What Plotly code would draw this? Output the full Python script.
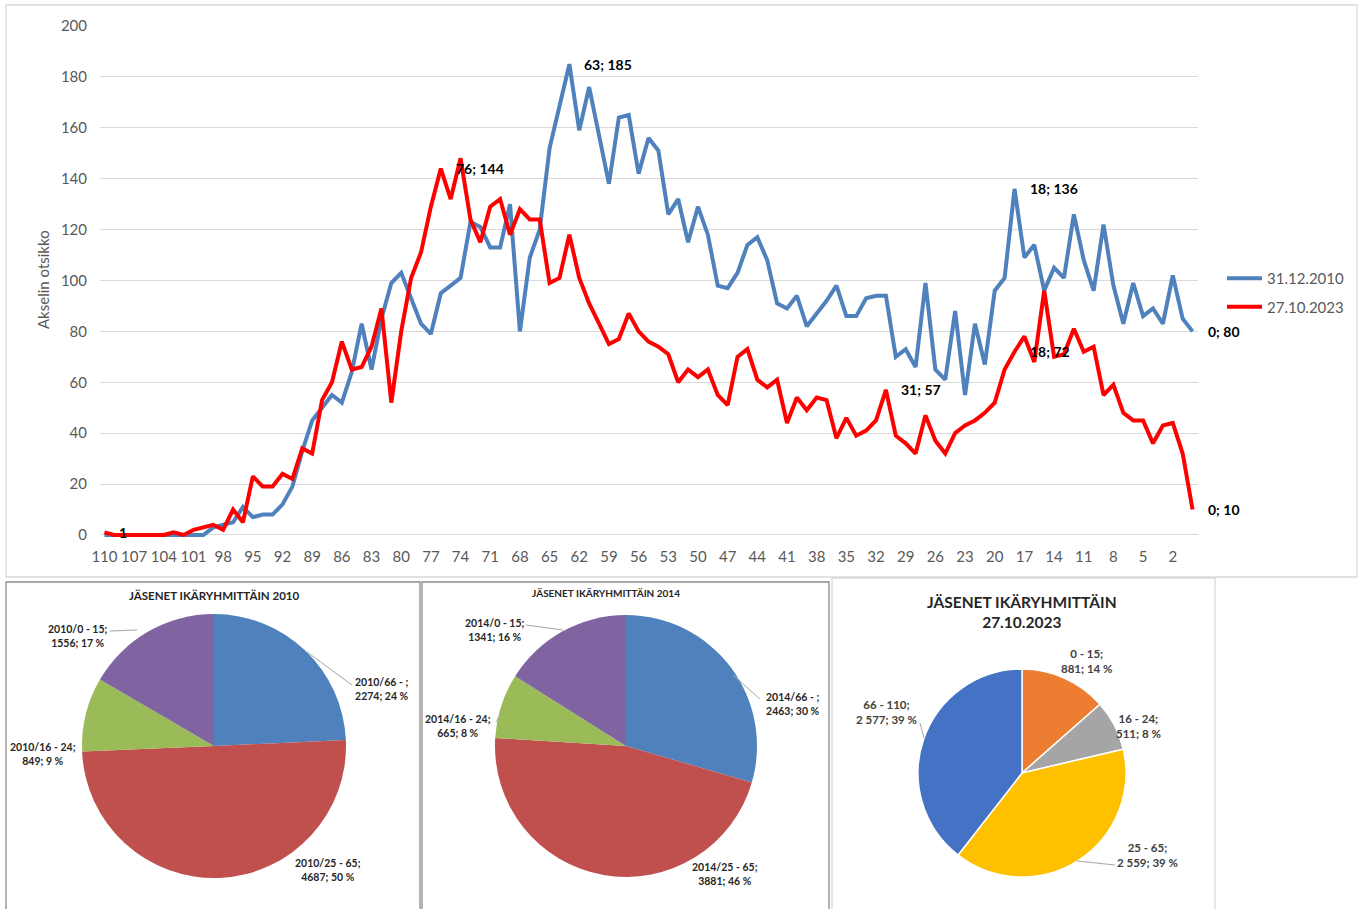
import plotly.graph_objects as go

W, H = 1358, 909

# ---------------- data ----------------
ages = list(range(110, -1, -1))
members_2010 = [0, 0, 0, 0, 0, 0, 0, 0, 0, 0, 0,
                3, 4, 5, 11, 7, 8, 8, 12, 19, 33,
                45, 50, 55, 52, 64, 83, 65, 85, 99, 103,
                93, 83, 79, 95, 98, 101, 123, 121, 113, 113,
                130, 80, 109, 120, 152, 168, 185, 159, 176, 157,
                138, 164, 165, 142, 156, 151, 126, 132, 115, 129,
                118, 98, 97, 103, 114, 117, 108, 91, 89, 94,
                82, 87, 92, 98, 86, 86, 93, 94, 94, 70,
                73, 66, 99, 65, 61, 88, 55, 83, 67, 96,
                101, 136, 109, 114, 96, 105, 101, 126, 108, 96,
                122, 98, 83, 99, 86, 89, 83, 102, 85, 80]
members_2023 = [1, 0, 0, 0, 0, 0, 0, 1, 0, 2, 3,
                4, 2, 10, 5, 23, 19, 19, 24, 22, 34,
                32, 53, 60, 76, 65, 66, 74, 89, 52, 80,
                101, 111, 129, 144, 132, 148, 124, 115, 129, 132,
                118, 128, 124, 124, 99, 101, 118, 101, 91, 83,
                75, 77, 87, 80, 76, 74, 71, 60, 65, 62,
                65, 55, 51, 70, 73, 61, 58, 61, 44, 54,
                49, 54, 53, 38, 46, 39, 41, 45, 57, 39,
                36, 32, 47, 37, 32, 40, 43, 45, 48, 52,
                65, 72, 78, 68, 96, 70, 71, 81, 72, 74,
                55, 59, 48, 45, 45, 36, 43, 44, 32, 10]
series_names = ["31.12.2010", "27.10.2023"]
x_tick_vals = [110, 107, 104, 101, 98, 95, 92, 89, 86, 83, 80, 77, 74, 71, 68, 65,
               62, 59, 56, 53, 50, 47, 44, 41, 38, 35, 32, 29, 26, 23, 20, 17, 14, 11, 8, 5, 2]
y_tick_vals = [0, 20, 40, 60, 80, 100, 120, 140, 160, 180, 200]
labeled_2010 = [63, 18, 0]
labeled_2023 = [76, 31, 18, 0]
value_only_2023 = [110]

pie_groups_2010 = ["2010/66 - ", "2010/25 - 65", "2010/16 - 24", "2010/0 - 15"]
pie_values_2010 = [2274, 4687, 849, 1556]
pie_pct_2010 = [24, 50, 9, 17]
pie_groups_2014 = ["2014/66 - ", "2014/25 - 65", "2014/16 - 24", "2014/0 - 15"]
pie_values_2014 = [2463, 3881, 665, 1341]
pie_pct_2014 = [30, 46, 8, 16]
pie_groups_2023 = ["0 - 15", "16 - 24", "25 - 65", "66 - 110"]
pie_values_2023 = [881, 511, 2559, 2577]
pie_pct_2023 = [14, 8, 39, 39]

# ---------------- helpers ----------------
def px(x):
    return x / W


def py(y):
    return 1 - y / H


FONT = "Lato, Open Sans, sans-serif"
GRAY_TXT = "#595959"

fig = go.Figure()

# ---------------- line chart ----------------
fig.add_trace(go.Scatter(x=ages, y=members_2010, mode="lines", name=series_names[0],
                         line=dict(color="#4F81BD", width=4), legendgroup="a"))
fig.add_trace(go.Scatter(x=ages, y=members_2023, mode="lines", name=series_names[1],
                         line=dict(color="#FF0000", width=4), legendgroup="b"))

annotations = []
lab_font = dict(family=FONT, size=14, color="#000000", weight="bold")
for a in labeled_2010:
    v = members_2010[ages.index(a)]
    annotations.append(dict(x=a, y=v, xref="x", yref="y", text=f"{a}; {v}", showarrow=False,
                            xanchor="left", yanchor="middle", xshift=13, font=lab_font))
for a in labeled_2023:
    v = members_2023[ages.index(a)]
    annotations.append(dict(x=a, y=v, xref="x", yref="y", text=f"{a}; {v}", showarrow=False,
                            xanchor="left", yanchor="middle", xshift=13, font=lab_font))
for a in value_only_2023:
    v = members_2023[ages.index(a)]
    annotations.append(dict(x=a, y=v, xref="x", yref="y", text=f"{v}", showarrow=False,
                            xanchor="left", yanchor="middle", xshift=13, font=lab_font))


def paper_text(x, y, text, font, angle=0):
    annotations.append(dict(x=px(x), y=py(y), xref="paper", yref="paper", text=text, showarrow=False,
                            xanchor="center", yanchor="middle", textangle=angle, font=font))


# y axis title
paper_text(43, 280, "Akselin otsikko", dict(family=FONT, size=15, color=GRAY_TXT), angle=-90)

# ---------------- pies ----------------
def pie_domain(cx, cy, r):
    return dict(x=[px(cx - r), px(cx + r)], y=[py(cy + r), py(cy - r)])


colors_old = ["#4F81BD", "#C0504D", "#9BBB59", "#8064A2"]
colors_new = ["#ED7D31", "#A5A5A5", "#FFC000", "#4472C4"]

fig.add_trace(go.Pie(values=pie_values_2010, labels=pie_groups_2010, sort=False, direction="clockwise",
                     rotation=0, textinfo="none", marker=dict(colors=colors_old), showlegend=False,
                     domain=pie_domain(214, 746, 132)))
fig.add_trace(go.Pie(values=pie_values_2014, labels=pie_groups_2014, sort=False, direction="clockwise",
                     rotation=0, textinfo="none", marker=dict(colors=colors_old), showlegend=False,
                     domain=pie_domain(626, 746, 131)))
fig.add_trace(go.Pie(values=pie_values_2023, labels=pie_groups_2023, sort=False, direction="clockwise",
                     rotation=0, textinfo="none",
                     marker=dict(colors=colors_new, line=dict(color="#FFFFFF", width=1.5)),
                     showlegend=False, domain=pie_domain(1022, 773, 104)))

# pie titles
paper_text(214, 595, "JÄSENET IKÄRYHMITTÄIN 2010",
           dict(family=FONT, size=11.5, color="#262626", weight="bold"))
paper_text(606, 593, "JÄSENET IKÄRYHMITTÄIN 2014",
           dict(family=FONT, size=10, color="#262626", weight="bold"))
paper_text(1022, 612, "JÄSENET IKÄRYHMITTÄIN<br>27.10.2023",
           dict(family=FONT, size=15.5, color="#262626", weight="bold"))

# pie data labels (positions are label placements; text from data)
pos_2010 = [(382, 689), (328, 870), (43, 754), (78, 636)]
pos_2014 = [(793, 704), (725, 874), (458, 726), (495, 630)]
pos_2023 = [(1086, 661), (1138, 726), (1147, 855), (886, 712)]
small_font = dict(family=FONT, size=10.5, color="#262626", weight="bold")
for g, v, p, (x, y) in zip(pie_groups_2010, pie_values_2010, pie_pct_2010, pos_2010):
    paper_text(x, y, f"{g};<br>{v}; {p} %", small_font)
for g, v, p, (x, y) in zip(pie_groups_2014, pie_values_2014, pie_pct_2014, pos_2014):
    paper_text(x, y, f"{g};<br>{v}; {p} %", small_font)
for g, v, p, (x, y) in zip(pie_groups_2023, pie_values_2023, pie_pct_2023, pos_2023):
    vs = f"{v:,}".replace(",", "\u00a0")
    paper_text(x, y, f"{g};<br>{vs}; {p} %", dict(family=FONT, size=11.5, color="#404040", weight="bold"))

# ---------------- shapes (frames, leader lines) ----------------
shapes = []
def rect(x0, y0, x1, y1, color):
    shapes.append(dict(type="rect", xref="paper", yref="paper", x0=px(x0), x1=px(x1), y0=py(y1), y1=py(y0),
                       line=dict(color=color, width=1.3), fillcolor="rgba(0,0,0,0)", layer="below"))

def seg(x0, y0, x1, y1):
    shapes.append(dict(type="line", xref="paper", yref="paper", x0=px(x0), x1=px(x1), y0=py(y0), y1=py(y1),
                       line=dict(color="#A6A6A6", width=1)))

rect(6, 5, 1357, 577, "#D9D9D9")
rect(6, 582, 420, 912, "#8C8C8C")
rect(422, 582, 829, 912, "#8C8C8C")
rect(832, 578, 1215, 912, "#D9D9D9")
seg(352, 685, 307, 652)
seg(110, 631, 137, 630)
seg(760, 699, 733, 675)
seg(526, 625, 563, 630)
seg(496, 722, 502, 711)
seg(1115, 865, 1077, 861)
seg(920, 723, 924, 738)

fig.update_layout(
    template="none",
    width=W, height=H,
    margin=dict(l=0, r=0, t=0, b=0, pad=0, autoexpand=False),
    paper_bgcolor="#FFFFFF", plot_bgcolor="#FFFFFF",
    font=dict(family=FONT, color=GRAY_TXT),
    xaxis=dict(domain=[px(100), px(1198)], range=[110.45, -0.55], tickmode="array",
               tickvals=x_tick_vals, ticktext=[str(t) for t in x_tick_vals], showgrid=False,
               zeroline=False, showline=False, ticks="", ticklabelstandoff=8, automargin=False,
               tickfont=dict(family=FONT, size=15, color=GRAY_TXT)),
    yaxis=dict(domain=[py(537.5), py(26)], range=[-1, 200], tickmode="array", tickvals=y_tick_vals,
               showgrid=True, gridcolor="#D9D9D9", gridwidth=1, zeroline=False, showline=False,
               ticks="", ticklabelstandoff=12, automargin=False,
               tickfont=dict(family=FONT, size=15, color=GRAY_TXT)),
    legend=dict(x=px(1222), y=py(262), xanchor="left", yanchor="top", tracegroupgap=6,
                font=dict(family=FONT, size=15, color=GRAY_TXT), bgcolor="rgba(0,0,0,0)",
                itemwidth=35, borderwidth=0),
    annotations=annotations,
    shapes=shapes,
)

fig.write_html("out.html", config={"displayModeBar": False},
               post_script="document.body.style.margin='0';document.body.style.overflow='hidden';")
